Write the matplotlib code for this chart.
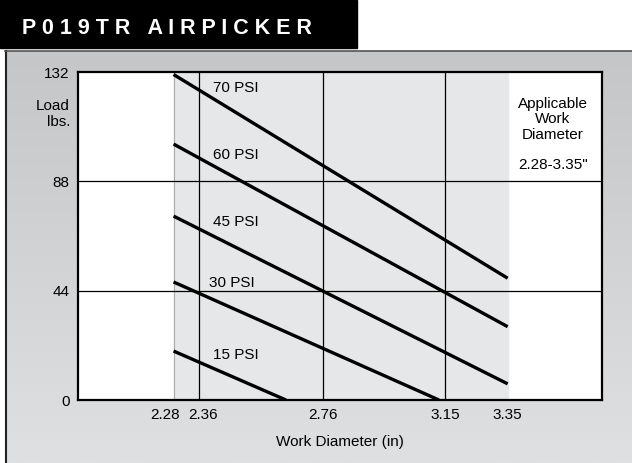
import numpy as np
import matplotlib
matplotlib.use("Agg")
import matplotlib.pyplot as plt
from matplotlib.patches import Rectangle
from matplotlib.lines import Line2D
from matplotlib.transforms import ScaledTranslation

plt.rcParams['font.family'] = ['Liberation Sans Narrow', 'Liberation Sans', 'DejaVu Sans']

# Data
psi_labels = ["70 PSI", "60 PSI", "45 PSI", "30 PSI", "15 PSI"]
x_start = [2.28, 2.28, 2.28, 2.28, 2.28]
x_end = [3.35, 3.35, 3.35, 3.13, 2.64]
load_start = [131, 103, 74, 47.5, 19.7]
load_end = [49, 29.5, 6.5, 0, 0]
label_x = [2.405, 2.405, 2.405, 2.395, 2.405]
label_y = [125.5, 98.5, 71.5, 47, 18]

x_ticks = [2.28, 2.36, 2.76, 3.15, 3.35]
y_ticks = [0, 44, 88, 132]
x_grid = [2.36, 2.76, 3.15]
y_grid = [44, 88]
range_lo, range_hi = 2.28, 3.35

fig = plt.figure(figsize=(6.32, 4.63), dpi=100)
fig.patch.set_facecolor("white")

# gray panel with a soft vertical gradient
bg = fig.add_axes([5 / 632, 0, 1 - 5 / 632, 412 / 463], zorder=-5)
grad = np.linspace(0, 1, 256).reshape(-1, 1)
cmap = matplotlib.colors.LinearSegmentedColormap.from_list("bg", ["#c5c6c8", "#dfe0e1"])
bg.imshow(grad, aspect="auto", cmap=cmap, extent=[0, 1, 0, 1], origin="upper")
bg.set_axis_off()

# borders and title bar
fig.add_artist(Line2D([5.5 / 632, 5.5 / 632], [0, 412 / 463], color="#222222", lw=1.5))
fig.add_artist(Line2D([5 / 632, 1], [412 / 463, 412 / 463], color="#555555", lw=1.2))
fig.add_artist(Rectangle((0, 1 - 48 / 463), 357 / 632, 48 / 463, color="black",
                         transform=fig.transFigure))
fig.text(22 / 632, 1 - 29 / 463, "P 0 1 9 T R   A I R P I C K E R", color="white",
         fontsize=15.5, fontweight="bold", family=["Liberation Sans", "DejaVu Sans"],
         va="center", ha="left")

ax = fig.add_axes([78 / 632, 63 / 463, 524 / 632, 328 / 463])
ax.set_xlim(1.974, 3.652)
ax.set_ylim(0, 132)
ax.set_facecolor("white")

ax.axvspan(range_lo, range_hi, color="#e6e7e8", zorder=0)
ax.axvline(range_lo, color="#a8a9ab", lw=0.8, zorder=1)
for g in x_grid:
    ax.axvline(g, color="black", lw=0.9, zorder=1)
for g in y_grid:
    ax.axhline(g, color="black", lw=0.9, zorder=1)

for i in range(len(psi_labels)):
    ax.plot([x_start[i], x_end[i]], [load_start[i], load_end[i]], color="black",
            lw=2.4, solid_capstyle="butt", zorder=3)
    ax.text(label_x[i], label_y[i], psi_labels[i], fontsize=11, va="center",
            ha="left", zorder=4)

for s in ax.spines.values():
    s.set_linewidth(1.6)
    s.set_color("black")

ax.set_xticks(x_ticks)
ax.set_xticklabels([f"{v:.2f}" for v in x_ticks])
ax.set_yticks(y_ticks)
ax.tick_params(length=0, labelsize=11, pad=6)

# nudge the two crowded labels apart, as in the original
shifts = {0: -0.08, 1: 0.05}
for idx, lab in enumerate(ax.get_xticklabels()):
    if idx in shifts:
        lab.set_transform(lab.get_transform() +
                          ScaledTranslation(shifts[idx], 0, fig.dpi_scale_trans))

ax.set_xlabel("Work Diameter (in)", fontsize=11, labelpad=9)
fig.text(70 / 632, 1 - 114 / 463, "Load\nlbs.", fontsize=11, ha="right",
         va="center", linespacing=1.1)

ax.text(3.495, 113, "Applicable\nWork\nDiameter", fontsize=11, ha="center",
        va="center", linespacing=1.15)
ax.text(3.495, 94.5, "2.28-3.35\"", fontsize=11, ha="center", va="center")

fig.savefig("out.png", dpi=100)
